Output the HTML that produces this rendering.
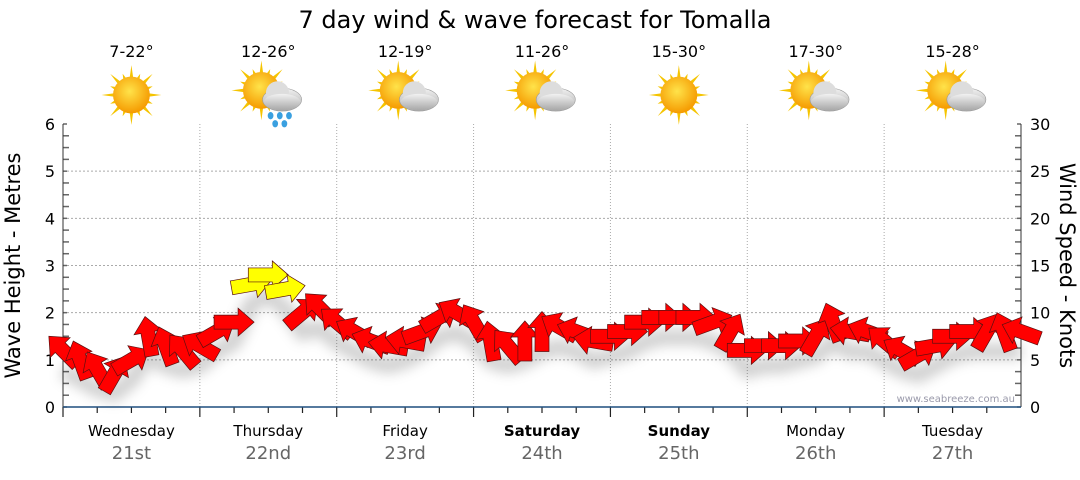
<!DOCTYPE html>
<html><head><meta charset="utf-8"><style>
body{margin:0;background:#fff;font-family:"Liberation Sans","DejaVu Sans",sans-serif}
svg text{font-family:"DejaVu Sans","Liberation Sans",sans-serif}
</style></head><body>
<svg id="c" width="1080" height="475" xmlns="http://www.w3.org/2000/svg">
<defs>
<radialGradient id="sun" cx="45%" cy="40%" r="60%"><stop offset="0" stop-color="#ffe34a"/><stop offset="1" stop-color="#f59a00"/></radialGradient>
<linearGradient id="cloud" x1="0" y1="0" x2="0" y2="1"><stop offset="0" stop-color="#f2f2f2"/><stop offset="1" stop-color="#a9a9a9"/></linearGradient>
<filter id="sh" x="-20%" y="-20%" width="140%" height="160%"><feGaussianBlur stdDeviation="6"/></filter>
</defs>
<text x="535" y="28" font-size="24" text-anchor="middle">7 day wind &amp; wave forecast for Tomalla</text>
<g id="plot"></g>
</svg>
<script>
const days=["Wednesday","Thursday","Friday","Saturday","Sunday","Monday","Tuesday"];
const dates=["21st","22nd","23rd","24th","25th","26th","27th"];
const temps=["7-22°","12-26°","12-19°","11-26°","15-30°","17-30°","15-28°"];
const icons=["sun","rain","cloud","cloud","sun","cloud","cloud"];
const waveTicks=[0,1,2,3,4,5,6];
const windTicks=[0,5,10,15,20,25,30];
const windSpeed=[6,5,4,3.5,5,7.5,6.5,6, 6.5,8,9,13,14,12.5,10,10.5, 9,8,7,6.5,7,8,9.5,10, 9,7,6.5,7,8,8.5,8,7, 7.5,8,9,9.5,9.5,9.5,9,8, 6,6.5,6.5,7,7.5,9,8,8, 7,6,5.5,6.5,7.5,8,8,8,8];
const windDir=[-135,-110,-120,-60,-30,-100,-110,-130, -150,-30,0,-10,0,-10,-40,-135, -140,-150,-160,-170,-170,-20,-30,-150, -120,-100,-130,-90,-90,-150,-160,-170, 0,0,0,0,0,0,-20,-60, 0,0,0,0,-60,-110,-170,-160, -140,-150,-30,-10,0,0,-60,-110,-160];
const NS="http://www.w3.org/2000/svg";
const L=63,R=1021,T=124,B=407,DW=(R-L)/7;
const yW=v=>B-(B-T)*v/6, yK=v=>B-(B-T)*v/30, xT=i=>L+i*DW/8;
const g=document.getElementById('plot');
function el(t,a,p){const e=document.createElementNS(NS,t);for(const k in a)e.setAttribute(k,a[k]);(p||g).appendChild(e);return e;}
function txt(x,y,s,a,p){const e=el('text',Object.assign({x:x,y:y},a),p);e.textContent=s;return e;}
for(const v of waveTicks){ if(v>0&&v<6){const l=el('line',{x1:L,x2:R,y1:yW(v),y2:yW(v),stroke:'#aaa','stroke-dasharray':'2,2'});

}
const t=txt(50,yW(v)+6,String(v),{'font-size':16,'text-anchor':'middle'});

}
for(const v of windTicks){const t=txt(1030,yK(v)+6,String(v),{'font-size':16});

}
for(let i=0;i<=24;i++){const y=B-(B-T)*i/24;el('line',{x1:L,x2:L+(i%4==0?4:6),y1:y,y2:y,stroke:'#666','stroke-width':1.5});
el('line',{x1:R-(i%4==0?4:6),x2:R,y1:y,y2:y,stroke:'#666','stroke-width':1.5});}
el('line',{x1:L,x2:L,y1:T,y2:B,stroke:'#333'});el('line',{x1:R,x2:R,y1:T,y2:B,stroke:'#333'});
for(let d=0;d<7;d++){const cx=L+DW*(d+0.5);
if(d>0){const l=el('line',{x1:L+DW*d,x2:L+DW*d,y1:T,y2:B,stroke:'#aaa','stroke-dasharray':'1,2'});

}
for(let q=0;q<4;q++){const x=L+DW*d+q*DW/4;el('line',{x1:x,x2:x,y1:B,y2:B+(q==0?10:6),stroke:'#222','stroke-width':1.2});}
const dl=txt(cx,436,days[d],{'font-size':15,'text-anchor':'middle','font-weight':(d==3||d==4)?'bold':'normal'});


const dt=txt(cx,459,dates[d],{'font-size':18,'text-anchor':'middle',fill:'#666'});


const tt=txt(cx,57,temps[d],{'font-size':16,'text-anchor':'middle'});


const ic=el('g',{transform:`translate(${cx},95) scale(1.15)`});


const sx=icons[d]=='sun'?0:-6,sy=icons[d]=='sun'?0:-4;
for(let r=0;r<16;r++){const a=r*Math.PI/8,len=r%2?20:26;el('polygon',{points:`${sx+Math.cos(a-0.12)*14},${sy+Math.sin(a-0.12)*14} ${sx+Math.cos(a)*len},${sy+Math.sin(a)*len} ${sx+Math.cos(a+0.12)*14},${sy+Math.sin(a+0.12)*14}`,fill:'#f5c400'},ic);}
el('circle',{cx:sx,cy:sy,r:16,fill:'url(#sun)'},ic);
if(icons[d]!='sun'){el('ellipse',{cx:12,cy:4,rx:17,ry:10,fill:'url(#cloud)',stroke:'#999','stroke-width':0.5},ic);el('circle',{cx:8,cy:-2,r:10,fill:'#ddd'},ic);el('ellipse',{cx:12,cy:6,rx:16,ry:7,fill:'url(#cloud)'},ic);}
if(icons[d]=='rain'){for(const p of [[2,18],[10,18],[18,18],[6,25],[14,25]])el('ellipse',{cx:p[0],cy:p[1],rx:2.5,ry:3.2,fill:'#3aa0e0'},ic);}
}
el('line',{x1:L,x2:R,y1:B,y2:B,stroke:'#1f4f7f','stroke-width':1.5});
const wm=txt(1015,402,'www.seabreeze.com.au',{'font-size':10,'text-anchor':'end',fill:'#99a'});


const yl=txt(0,0,'Wave Height - Metres',{'font-size':21,'text-anchor':'middle',transform:`translate(20,${(T+B)/2}) rotate(-90)`});


const yr=txt(0,0,'Wind Speed - Knots',{'font-size':21,'text-anchor':'middle',transform:`translate(1060,${(T+B)/2}) rotate(90)`});


let sp='';windSpeed.forEach((v,i)=>{sp+=(i?'L':'M')+xT(i)+','+(yK(v)+20);});
el('path',{d:sp,stroke:'#000','stroke-opacity':0.18,'stroke-width':16,fill:'none',filter:'url(#sh)'});
windSpeed.forEach((v,i)=>{
const a=el('polygon',{points:'-20,-7 4,-7 4,-14 20,0 4,14 4,7 -20,7',fill:v>=12?'#ffff00':'#ff0000',stroke:'#5a1010','stroke-width':0.7,
transform:`translate(${xT(i)},${yK(v)}) rotate(${windDir[i]})`});


});
</script>
</body></html>
